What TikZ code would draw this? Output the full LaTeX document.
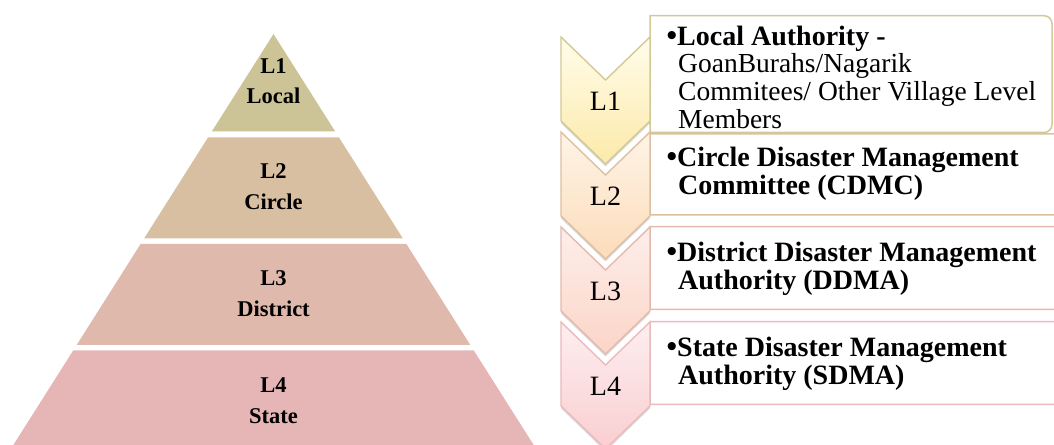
\documentclass[tikz,border=0pt]{standalone}
\usepackage{fontspec}
\setmainfont{Liberation Serif}
\usetikzlibrary{shadows}
\definecolor{pyA}{RGB}{204,196,151}
\definecolor{pyB}{RGB}{216,191,161}
\definecolor{pyC}{RGB}{223,185,171}
\definecolor{pyD}{RGB}{230,181,181}
\definecolor{edA}{RGB}{210,202,150}
\definecolor{edB}{RGB}{220,192,162}
\definecolor{edC}{RGB}{228,186,175}
\definecolor{edD}{RGB}{234,186,188}
\definecolor{chAt}{RGB}{255,252,234}
\definecolor{chAb}{RGB}{252,234,170}
\definecolor{chBt}{RGB}{254,244,230}
\definecolor{chBb}{RGB}{252,220,186}
\definecolor{chCt}{RGB}{253,238,234}
\definecolor{chCb}{RGB}{251,213,199}
\definecolor{chDt}{RGB}{253,238,240}
\definecolor{chDb}{RGB}{250,206,208}
\tikzset{
  pytext/.style={inner sep=0pt, anchor=base, font=\fontsize{22.5bp}{24bp}\selectfont\bfseries},
  chtext/.style={inner sep=0pt, anchor=center, font=\fontsize{28bp}{30bp}\selectfont},
  bxtext/.style={inner sep=0pt, anchor=base west, font=\fontsize{27.5bp}{30bp}\selectfont},
  bxbold/.style={inner sep=0pt, anchor=base west, font=\fontsize{28bp}{30bp}\selectfont\bfseries},
  chev/.style={line width=1.4bp, line join=miter, drop shadow={opacity=0.28, shadow xshift=0bp, shadow yshift=-2.5bp}},
  bx/.style={line width=1.5bp, fill=white}
}
\newcommand{\bul}{{\fontsize{30bp}{30bp}\selectfont\bfseries\textbullet}}
\begin{document}
\begin{tikzpicture}[x=1bp,y=-1bp]
\useasboundingbox (0,0) rectangle (1054,445);
\clip (0,0) rectangle (1054,445);
% pyramid
\fill[pyA] (273.5,34) -- (335.2,131.5) -- (211.8,131.5) -- cycle;
\fill[pyB] (208,137.5) -- (339,137.5) -- (402.8,238.3) -- (144.2,238.3) -- cycle;
\fill[pyC] (140.6,244) -- (406.4,244) -- (470.2,344.8) -- (76.8,344.8) -- cycle;
\fill[pyD] (73.2,350.5) -- (473.8,350.5) -- (533.7,445) -- (13.3,445) -- cycle;
\node[pytext] (p1a) at (273.5,73.3) {L1};
\node[pytext] (p1b) at (273.5,103.3) {Local};
\node[pytext] (p2a) at (273.5,179) {L2};
\node[pytext] (p2b) at (273.5,210) {Circle};
\node[pytext] (p3a) at (273.5,285.7) {L3};
\node[pytext] (p3b) at (273.5,316.7) {District};
\node[pytext] (p4a) at (273.5,392.4) {L4};
\node[pytext] (p4b) at (273.5,423.4) {State};
% boxes
\draw[bx, draw=edD] (650,404.3) -- (650,321.7) -- (1058,321.7) arc(-90:0:8) -- (1066,396.3) arc(0:90:8) -- cycle;
\draw[bx, draw=edC] (650,309.3) -- (650,226.7) -- (1058,226.7) arc(-90:0:8) -- (1066,301.3) arc(0:90:8) -- cycle;
\draw[bx, draw=edB] (650,215) -- (650,134) -- (1058,134) arc(-90:0:8) -- (1066,207) arc(0:90:8) -- cycle;
\draw[bx, draw=edA] (650,132.5) -- (650,15.7) -- (1044,15.7) arc(-90:0:8) -- (1052,124.5) arc(0:90:8) -- cycle;
% chevrons
\draw[chev, draw=edD, top color=chDt, bottom color=chDb] (561,322) -- (605.5,365) -- (650,322) -- (650,406) -- (605.5,449) -- (561,406) -- cycle;
\draw[chev, draw=edC, top color=chCt, bottom color=chCb] (561,227) -- (605.5,270) -- (650,227) -- (650,311) -- (605.5,354) -- (561,311) -- cycle;
\draw[chev, draw=edB, top color=chBt, bottom color=chBb] (561,132) -- (605.5,175) -- (650,132) -- (650,216) -- (605.5,259) -- (561,216) -- cycle;
\draw[chev, draw=edA, top color=chAt, bottom color=chAb] (561,37) -- (605.5,80) -- (650,37) -- (650,121) -- (605.5,164) -- (561,121) -- cycle;
\node[chtext] (c1) at (605.5,101) {L1};
\node[chtext] (c2) at (605.5,196) {L2};
\node[chtext] (c3) at (605.5,291) {L3};
\node[chtext] (c4) at (605.5,386) {L4};
% box texts
\node[bxbold] (b1a) at (666.5,45.7) {\bul Local Authority -};
\node[bxtext] (b1b) at (678,73) {GoanBurahs/Nagarik};
\node[bxtext] (b1c) at (678,100.7) {Commitees/ Other Village Level};
\node[bxtext] (b1d) at (678,128.3) {Members};
\node[bxbold] (b2a) at (666.5,166.7) {\bul Circle Disaster Management};
\node[bxbold] (b2b) at (678,194.3) {Committee (CDMC)};
\node[bxbold] (b3a) at (666.5,261.7) {\bul District Disaster Management};
\node[bxbold] (b3b) at (678,289.3) {Authority (DDMA)};
\node[bxbold] (b4a) at (666.5,356.7) {\bul State Disaster Management};
\node[bxbold] (b4b) at (678,384.3) {Authority (SDMA)};
\end{tikzpicture}
\end{document}
